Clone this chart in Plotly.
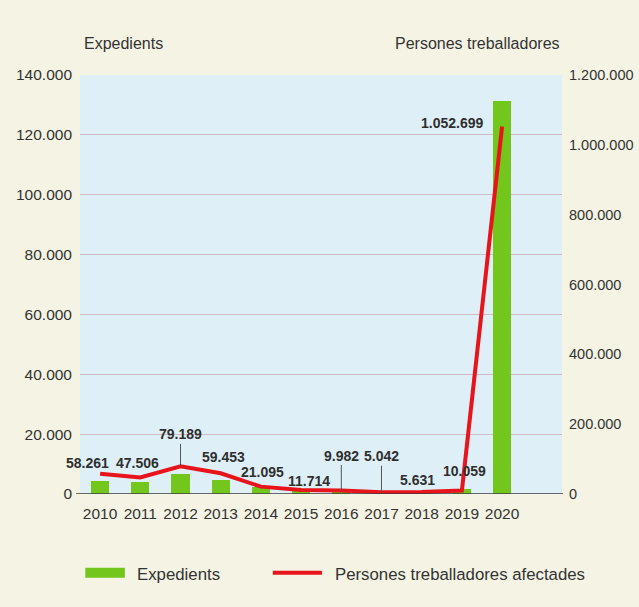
import plotly.graph_objects as go

years = ["2010", "2011", "2012", "2013", "2014", "2015", "2016", "2017", "2018", "2019", "2020"]
expedients = [4200, 4100, 6650, 4650, 2200, 1300, 1200, 800, 900, 1600, 131300]
persones = [58261, 47506, 79189, 59453, 21095, 11714, 9982, 5042, 5631, 10059, 1052699]
persones_labels = ["58.261", "47.506", "79.189", "59.453", "21.095", "11.714", "9.982", "5.042", "5.631", "10.059", "1.052.699"]
left_ticks = [0, 20000, 40000, 60000, 80000, 100000, 120000, 140000]
left_ticktext = ["0", "20.000", "40.000", "60.000", "80.000", "100.000", "120.000", "140.000"]
right_ticks = [0, 200000, 400000, 600000, 800000, 1000000, 1200000]
right_ticktext = ["0", "200.000", "400.000", "600.000", "800.000", "1.000.000", "1.200.000"]

GREEN = "#72c61c"
RED = "#e8141c"
TXT = "#333333"
FONT = "Liberation Sans, Arial, sans-serif"

fig = go.Figure()
fig.add_trace(go.Bar(x=years, y=expedients, name="Expedients", marker_color=GREEN,
                     marker_line_width=0, width=0.45, yaxis="y", showlegend=False))
fig.add_trace(go.Scatter(x=years, y=persones, name="Persones treballadores afectades",
                         mode="lines", line=dict(color=RED, width=4), yaxis="y2", showlegend=False))

# label offsets (pixels): (xshift, yshift, leader)
offsets = [(-13, 11, None), (-3, 14, None), (0, 0, -32), (3, 16, None), (2, 15, None),
           (8, 9, None), (0, 0, -35), (0, 0, -36), (-4, 12, None), (3, 19, None), (None, 3, None)]
annotations = []
for i, (v, lab) in enumerate(zip(persones, persones_labels)):
    dx, dy, lead = offsets[i]
    base = dict(x=i, y=v, xref="x", yref="y2", text="<b>%s</b>" % lab,
                font=dict(family=FONT, size=14, color="#2f2f2f"))
    if lead is not None:
        base.update(showarrow=True, arrowhead=0, ax=0, ay=lead, arrowcolor="#555555",
                    arrowwidth=1, standoff=0)
    elif dx is None:
        base.update(showarrow=False, xanchor="right", xshift=-17, yshift=dy)
    else:
        base.update(showarrow=False, xshift=dx, yshift=dy)
    annotations.append(base)

# axis titles
annotations.append(dict(text="Expedients", xref="paper", yref="paper", x=0.004, y=1.074,
                        xanchor="left", yanchor="middle", showarrow=False,
                        font=dict(family=FONT, size=16, color=TXT)))
annotations.append(dict(text="Persones treballadores", xref="paper", yref="paper", x=1.0, y=1.074,
                        xanchor="right", yanchor="middle", showarrow=False,
                        font=dict(family=FONT, size=16, color=TXT)))
# custom legend texts
annotations.append(dict(text="Expedients", xref="paper", yref="paper", x=0.114, y=-0.193,
                        xanchor="left", yanchor="middle", showarrow=False,
                        font=dict(family=FONT, size=16.8, color=TXT)))
annotations.append(dict(text="Persones treballadores afectades", xref="paper", yref="paper",
                        x=0.525, y=-0.193, xanchor="left", yanchor="middle", showarrow=False,
                        font=dict(family=FONT, size=16.8, color=TXT)))

shapes = [
    dict(type="line", xref="paper", yref="y", x0=-0.008, x1=1.002, y0=0, y1=0,
         line=dict(color="#3c3c3c", width=1.5)),
    dict(type="rect", xref="paper", yref="paper", x0=0.011, x1=0.093, y0=-0.176, y1=-0.2,
         fillcolor=GREEN, line=dict(width=0)),
    dict(type="line", xref="paper", yref="paper", x0=0.400, x1=0.502, y0=-0.188, y1=-0.188,
         line=dict(color=RED, width=4)),
]

fig.update_layout(
    width=639, height=607,
    margin=dict(l=80, r=77, t=75, b=113),
    paper_bgcolor="#f4f3e4",
    plot_bgcolor="#dfeff7",
    font=dict(family=FONT, size=15, color=TXT),
    bargap=0,
    xaxis=dict(type="category", range=[-0.5, 11.49], showgrid=False, zeroline=False,
               showline=False, ticks="", ticklabelstandoff=8, automargin=False,
               tickfont=dict(family=FONT, size=15.5, color=TXT)),
    yaxis=dict(range=[0, 140000], tickvals=left_ticks, ticktext=left_ticktext,
               showgrid=True, gridcolor="#cdbcc6", gridwidth=1, zeroline=False,
               showline=False, ticks="", ticklabelstandoff=7, automargin=False,
               tickfont=dict(family=FONT, size=15.5, color=TXT)),
    yaxis2=dict(range=[0, 1200000], tickvals=right_ticks, ticktext=right_ticktext,
                overlaying="y", side="right", showgrid=False, zeroline=False,
                showline=False, ticks="", ticklabelstandoff=6, automargin=False,
                tickfont=dict(family=FONT, size=14.5, color=TXT)),
    annotations=annotations,
    shapes=shapes,
    showlegend=False,
)

fig.write_html("out.html", config={"displayModeBar": False},
               post_script="document.body.style.margin='0';")
